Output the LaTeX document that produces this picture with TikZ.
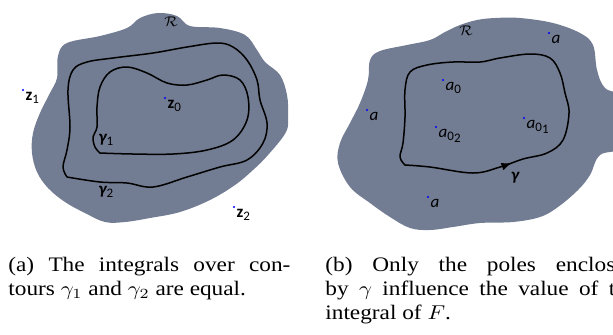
\documentclass[tikz,border=0pt]{standalone}
\usepackage{amsmath, amssymb}
\usepackage{graphicx}
\usepackage{fontspec}
\setmainfont{Liberation Serif}
\newfontfamily\lblfont{Carlito}
\usepackage{tikz}
\usetikzlibrary{positioning, decorations.markings, arrows.meta}

\definecolor{regiongray}{RGB}{114,124,146}
\newcommand{\lowsub}[1]{\raisebox{-0.35ex}{\fontsize{6.5}{7}\selectfont #1}}
\newcommand{\capbox}[2]{\scalebox{1.13}[1]{\parbox[t]{#1}{#2}}}

\begin{document}
\begin{tikzpicture}[x=0.5pt, y=-0.5pt,
  region/.style={fill=regiongray, draw=none},
  contour/.style={draw=black, line width=0.75pt, line join=round},
  pole/.style={circle, fill=blue, inner sep=0pt, minimum size=1.1pt},
  lbl/.style={font=\lblfont\fontsize{8.5}{9}\selectfont, inner sep=0.6pt},
  caption/.style={font=\fontsize{10.3}{12}\selectfont, inner sep=0pt, anchor=north west}]
\useasboundingbox (0,0) rectangle (613,334);
\clip (0,0) rectangle (613,334);

% (a) two contours
\fill[region] plot[smooth cycle, tension=0.6] coordinates {
  (58,56) (67,43) (100,36) (127,28) (140,18) (158,13) (177,16) (190,26)
  (220,28) (245,35) (257,50) (265,62) (280,75) (287,95) (288,115) (286,132)
  (268,155) (253,170) (235,185) (210,200) (180,212) (150,218) (125,222)
  (105,222) (85,213) (65,202) (48,188) (37,172) (32,153) (33,133) (40,113)
  (50,93) (57,78)};
\draw[contour] plot[smooth, tension=0.6] coordinates {
  (67,177) (100,182) (127,183) (153,187) (187,177) (220,167) (247,160)
  (263,143) (267,123) (260,100) (257,80) (247,60) (233,47) (217,43) (187,47)
  (153,53) (113,58) (87,62) (73,70) (68,90) (70,127) (67,150) (63,167) (67,177)};
\draw[contour] plot[smooth, tension=0.6] coordinates {
  (100,153) (133,154) (173,154) (207,150) (233,140) (247,120) (248,97)
  (240,80) (223,75) (207,80) (187,85) (167,83) (147,73) (127,67) (110,72)
  (100,87) (97,107) (97,127) (93,137) (95,147) (100,153)};

\node[font=\fontsize{7.5}{8}\selectfont] (Ra) at (171,22) {$\mathcal{R}$};
\node[pole] (z1) at (23,90) {};
\node[lbl, below right=0pt of z1] {{\bfseries z}\lowsub{1}};
\node[pole] (z0) at (165,98) {};
\node[lbl, below right=0pt of z0] {{\bfseries z}\lowsub{0}};
\node[pole] (z2) at (234,207) {};
\node[lbl, below right=0pt of z2] {{\bfseries z}\lowsub{2}};
\node[lbl] (g1) at (106,140) {{\bfseries\itshape γ}\lowsub{1}};
\node[lbl] (g2) at (106,192) {{\bfseries\itshape γ}\lowsub{2}};

% (b) poles and one contour
\fill[region] plot[smooth cycle, tension=0.6] coordinates {
  (370,60) (380,51) (407,45) (430,40) (445,32) (460,25) (477,20) (495,18)
  (520,18) (553,23) (580,33) (593,45) (597,70) (605,88) (625,100) (625,145)
  (600,155) (590,175) (578,190) (558,207) (540,217) (513,222) (480,223)
  (453,227) (430,230) (410,228) (390,217) (370,203) (350,187) (338,163)
  (340,143) (350,123) (360,103) (368,80)};
\draw[contour, postaction={decorate}, decoration={markings,
    mark=at position 0.22 with {\arrow{Latex[length=5pt, width=4pt]}}}]
  plot[smooth, tension=0.6] coordinates {
  (405,165) (430,167) (473,173) (500,167) (523,159) (547,153) (563,140)
  (569,113) (565,93) (560,73) (550,58) (530,54) (500,58) (480,62) (453,62)
  (427,65) (410,72) (405,90) (405,117) (403,143) (400,157) (405,165)};

\node[font=\fontsize{7.5}{8}\selectfont] (Rb) at (466,31) {$\mathcal{R}$};
\node[lbl] (g) at (515,178) {{\bfseries\itshape γ}};
\node[pole] (a1) at (549,33) {};
\node[lbl, below right=0pt of a1] {\itshape a};
\node[pole] (a0) at (443,80) {};
\node[lbl, below right=0pt of a0] {{\itshape a}\lowsub{0}};
\node[pole] (a2) at (367,110) {};
\node[lbl, below right=0pt of a2] {\itshape a};
\node[pole] (a02) at (436,127) {};
\node[lbl, below right=0pt of a02] {{\itshape a}\lowsub{0\lowsub{2}}};
\node[pole] (a01) at (524,118) {};
\node[lbl, below right=0pt of a01] {{\itshape a}\lowsub{0\lowsub{1}}};
\node[pole] (a3) at (428,197) {};
\node[lbl, below right=0pt of a3] {\itshape a};

% captions
\node[caption] (capa) at (8,257)
  {\capbox{124.8pt}{(a) The integrals over con-\linebreak tours $\gamma_1$ and $\gamma_2$ are equal.}};
\node[caption] (capb) at (325,257)
  {\capbox{138pt}{(b) Only the poles enclosed\linebreak by $\gamma$ influence the value of the\linebreak integral of $F$.}};
\end{tikzpicture}
\end{document}
